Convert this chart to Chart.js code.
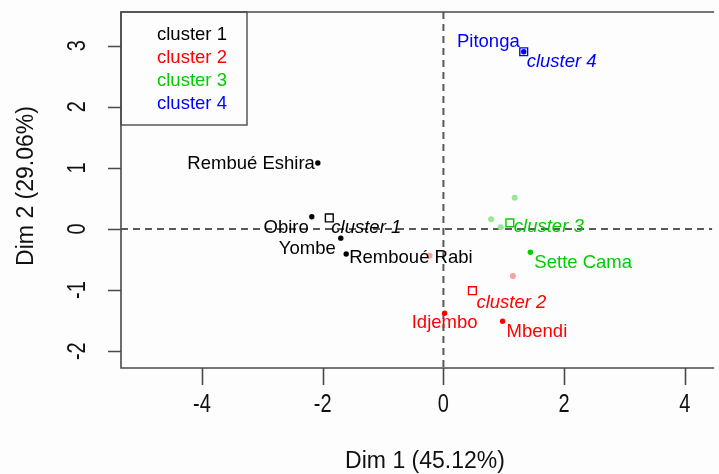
<!DOCTYPE html>
<html>
<head>
<meta charset="utf-8">
<title>Clusters</title>
<script src="https://cdn.jsdelivr.net/npm/chart.js@4/dist/chart.umd.min.js"></script>
<style>
    html, body { margin: 0; padding: 0; background: #fdfdfd; }
    #wrap { width: 719px; height: 474px; }
</style>
</head>
<body>
<div id="wrap"><canvas id="clusterChart" width="719" height="474"></canvas></div>
<script>
// --- data ---
const clusterNames = ['cluster 1', 'cluster 2', 'cluster 3', 'cluster 4'];
const clusterColors = ['#000000', '#ff0000', '#00cd00', '#0000ff'];
const fadedColors = ['#b0b0b0', '#f7a0a0', '#98e698', '#9999ff'];

const indNames = [
    ['Rembué Eshira', 'Obiro', 'Yombe', 'Remboué Rabi'],
    ['Idjembo', 'Mbendi'],
    ['Sette Cama'],
    ['Pitonga']
];
const indX = [[-2.08, -2.18, -1.70, -1.61], [0.02, 0.98], [1.44], [1.33]];
const indY = [[1.08, 0.20, -0.15, -0.41], [-1.38, -1.51], [-0.38], [2.90]];

const centerX = [-1.89, 0.48, 1.10, 1.33];
const centerY = [0.18, -1.01, 0.10, 2.90];

// faint points (no label)
const fadedX = [[], [1.15, -0.23], [1.18, 0.79, 0.95], []];
const fadedY = [[], [-0.77, -0.44], [0.51, 0.16, 0.03], []];

const xTicks = [-4, -2, 0, 2, 4];
const yTicks = [-2, -1, 0, 1, 2, 3];
const xTitle = 'Dim 1 (45.12%)';
const yTitle = 'Dim 2 (29.06%)';

// label placement: [dx, dy, align] relative to the point pixel
const indLabelPos = [
    [[-3, 1, 'right'], [-3, 11, 'right'], [-5, 11, 'right'], [3, 4, 'left']],
    [[0, 10, 'center'], [4, 11, 'left']],
    [[4, 11, 'left']],
    [[-4, -10, 'right']]
];
const centerLabelPos = [[2, 10, 'left'], [4, 12, 'left'], [4, 4, 'left'], [3, 10, 'left']];

const FONT = '"Liberation Sans", Arial, sans-serif';

function toPoints(xs, ys) {
    return xs.map((x, i) => ({ x: x, y: ys[i] }));
}

// datasets: faded points first, then individuals, then centroid squares
const datasets = [];
clusterNames.forEach((name, k) => {
    datasets.push({
        label: name + ' (faded)',
        data: toPoints(fadedX[k], fadedY[k]),
        pointRadius: 3,
        pointBackgroundColor: fadedColors[k],
        pointBorderWidth: 0
    });
});
clusterNames.forEach((name, k) => {
    datasets.push({
        label: name,
        data: toPoints(indX[k], indY[k]),
        pointRadius: 2.7,
        pointBackgroundColor: clusterColors[k],
        pointBorderWidth: 0,
        labels: indNames[k],
        labelPos: indLabelPos[k],
        labelColor: clusterColors[k],
        italic: false
    });
});
clusterNames.forEach((name, k) => {
    datasets.push({
        label: name + ' centre',
        data: [{ x: centerX[k], y: centerY[k] }],
        pointStyle: 'rect',
        pointRadius: 5.5,
        pointBackgroundColor: 'rgba(0,0,0,0)',
        pointBorderColor: clusterColors[k],
        pointBorderWidth: 1.4,
        labels: [name],
        labelPos: [centerLabelPos[k]],
        labelColor: clusterColors[k],
        italic: true
    });
});

// draws the frame, the dashed zero lines, axes, legend and point labels
const rPlot = {
    id: 'rPlot',
    beforeDraw(chart) {
        const ctx = chart.ctx;
        ctx.save();
        ctx.fillStyle = '#fdfdfd';
        ctx.fillRect(0, 0, chart.width, chart.height);
        ctx.restore();
    },
    beforeDatasetsDraw(chart) {
        const ctx = chart.ctx;
        const a = chart.chartArea;
        const xs = chart.scales.x, ys = chart.scales.y;
        ctx.save();
        ctx.strokeStyle = '#5a5a5a';
        ctx.lineWidth = 2;
        ctx.setLineDash([7, 5]);
        const x0 = xs.getPixelForValue(0), y0 = ys.getPixelForValue(0);
        ctx.beginPath();
        ctx.moveTo(x0, a.top); ctx.lineTo(x0, a.bottom);
        ctx.moveTo(a.left, y0); ctx.lineTo(a.right, y0);
        ctx.stroke();
        ctx.restore();
    },
    afterDraw(chart) {
        const ctx = chart.ctx;
        const a = chart.chartArea;
        const xs = chart.scales.x, ys = chart.scales.y;

        // frame (right side is outside the picture)
        ctx.save();
        ctx.strokeStyle = '#4a4a4a';
        ctx.lineWidth = 1.6;
        ctx.beginPath();
        ctx.moveTo(a.right + 2, a.top);
        ctx.lineTo(a.left, a.top);
        ctx.lineTo(a.left, a.bottom);
        ctx.lineTo(a.right + 2, a.bottom);
        ctx.stroke();

        // ticks
        ctx.beginPath();
        xTicks.forEach(v => {
            const px = Math.round(xs.getPixelForValue(v)) + 0.5;
            ctx.moveTo(px, a.bottom); ctx.lineTo(px, a.bottom + 17);
        });
        yTicks.forEach(v => {
            const py = Math.round(ys.getPixelForValue(v)) + 0.5;
            ctx.moveTo(a.left, py); ctx.lineTo(a.left - 13, py);
        });
        ctx.stroke();

        // tick labels (narrow look, like the original)
        ctx.fillStyle = '#111';
        ctx.textAlign = 'center';
        ctx.textBaseline = 'middle';
        ctx.font = '25px ' + FONT;
        xTicks.forEach(v => {
            ctx.save();
            ctx.translate(xs.getPixelForValue(v), 405);
            ctx.scale(0.8, 1);
            ctx.fillText(String(v), 0, 0);
            ctx.restore();
        });
        yTicks.forEach(v => {
            ctx.save();
            ctx.translate(78, ys.getPixelForValue(v));
            ctx.rotate(-Math.PI / 2);
            ctx.scale(0.8, 1);
            ctx.fillText(String(v), 0, 0);
            ctx.restore();
        });

        // axis titles
        ctx.font = '23px ' + FONT;
        ctx.fillText(xTitle, 425, 462);
        ctx.save();
        ctx.translate(27, 186);
        ctx.rotate(-Math.PI / 2);
        ctx.fillText(yTitle, 0, 0);
        ctx.restore();

        // legend box
        ctx.strokeStyle = '#4a4a4a';
        ctx.lineWidth = 1.4;
        ctx.strokeRect(a.left, a.top, 126, 113);
        ctx.font = '18.5px ' + FONT;
        ctx.textAlign = 'left';
        clusterNames.forEach((name, k) => {
            ctx.fillStyle = clusterColors[k];
            ctx.fillText(name, 157, 35 + k * 23);
        });

        // point labels
        chart.data.datasets.forEach((ds, i) => {
            if (!ds.labels) return;
            const meta = chart.getDatasetMeta(i);
            meta.data.forEach((pt, j) => {
                const pos = ds.labelPos[j];
                ctx.font = (ds.italic ? 'italic ' : '') + '18.5px ' + FONT;
                ctx.fillStyle = ds.labelColor;
                ctx.textAlign = pos[2];
                ctx.fillText(ds.labels[j], pt.x + pos[0], pt.y + pos[1]);
            });
        });
        ctx.restore();
    }
};

document.addEventListener('DOMContentLoaded', function() {
    const ctx = document.getElementById('clusterChart').getContext('2d');
    new Chart(ctx, {
        type: 'scatter',
        data: { datasets: datasets },
        options: {
            responsive: false,
            animation: false,
            devicePixelRatio: 1,
            layout: { padding: { left: 121, top: 12, right: 0, bottom: 106 } },
            plugins: { legend: { display: false }, tooltip: { enabled: false } },
            scales: {
                x: { type: 'linear', min: -5.34, max: 4.45, display: false },
                y: { type: 'linear', min: -2.275, max: 3.55, display: false }
            }
        },
        plugins: [rPlot]
    });
});
</script>
</body>
</html>
